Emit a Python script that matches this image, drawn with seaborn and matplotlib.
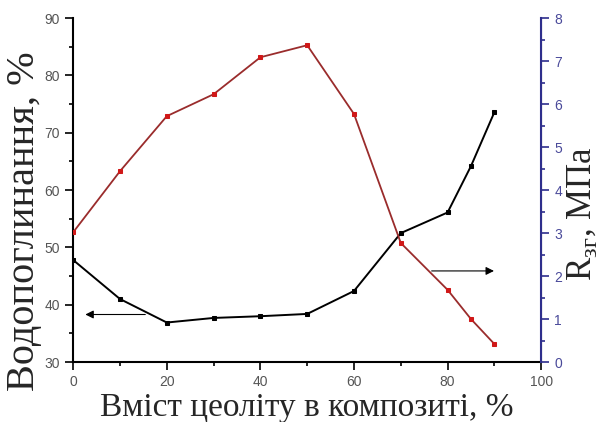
import seaborn as sns
import matplotlib.pyplot as plt
import pandas as pd

zeolite = [0, 10, 20, 30, 40, 50, 60, 70, 80, 85, 90]
water = [47.8, 41.0, 36.9, 37.7, 38.0, 38.4, 42.4, 52.5, 56.1, 64.2, 73.6]
strength = [3.02, 4.44, 5.72, 6.23, 7.09, 7.37, 5.77, 2.77, 1.68, 1.0, 0.42]

df = pd.DataFrame({"x": zeolite, "w": water, "r": strength})

sns.set_style("white")
plt.rcParams['font.family'] = ['Liberation Sans', 'DejaVu Sans']

fig = plt.figure(figsize=(6, 4.22), dpi=100)
ax = fig.add_axes([0.122, 0.142, 0.78, 0.815])
ax2 = ax.twinx()

sns.lineplot(data=df, x="x", y="w", ax=ax, color="black", marker="s",
             markersize=3.5, markeredgecolor="black", linewidth=1.4)
sns.lineplot(data=df, x="x", y="r", ax=ax2, color="#9a2c2c", marker="s",
             markersize=3.5, markerfacecolor="#d01818", markeredgecolor="#d01818",
             linewidth=1.3)

ax.set_xlim(0, 100)
ax.set_ylim(30, 90)
ax2.set_ylim(0, 8)

serif = ['Liberation Serif', 'DejaVu Serif']
ax.set_xlabel("Вміст цеоліту в композиті, %", family=serif, fontsize=24, labelpad=2)
ax.set_ylabel("Водопоглинання, %", family=serif, fontsize=29, labelpad=1)
ax2.set_ylabel(r"R$_{\mathregular{зг}}$, МПа", family=serif, fontsize=25, labelpad=2)
ax.yaxis.label.set_y(0.41)
ax2.yaxis.label.set_y(0.43)

ax.set_xticks(range(0, 101, 20))
ax.set_xticks(range(10, 100, 20), minor=True)
ax.set_yticks(range(30, 91, 10))
ax.set_yticks(range(35, 90, 10), minor=True)
ax2.set_yticks(range(0, 9))
ax2.set_yticks([i + 0.5 for i in range(8)], minor=True)

tick_gray = "#555555"
blue = "#2e2e8c"
ax.tick_params(axis="both", which="major", direction="out", length=6, width=1.2,
               labelsize=10, labelcolor=tick_gray, color="black",
               bottom=True, left=True)
ax.tick_params(axis="both", which="minor", direction="out", length=3, width=1.2,
               color="black", bottom=True, left=True)
ax2.tick_params(axis="y", which="major", direction="out", length=6, width=1.2,
                labelsize=10, labelcolor="#4a4a9a", color=blue, right=True)
ax2.tick_params(axis="y", which="minor", direction="out", length=3, width=1.2,
                color=blue, right=True)

for a in (ax, ax2):
    a.spines["top"].set_visible(False)
ax.spines["left"].set_linewidth(1.5)
ax.spines["bottom"].set_linewidth(1.5)
ax.spines["left"].set_color("black")
ax.spines["bottom"].set_color("black")
ax2.spines["right"].set_color(blue)
ax2.spines["right"].set_linewidth(1.5)
ax2.spines["left"].set_visible(False)
ax2.spines["bottom"].set_visible(False)

# arrows pointing at the matching axes
ax.annotate("", xy=(2, 38.3), xytext=(16, 38.3),
            arrowprops=dict(arrowstyle="-|>", color="black", lw=0.8,
                            mutation_scale=12))
ax2.annotate("", xy=(90.5, 2.12), xytext=(76, 2.12),
             arrowprops=dict(arrowstyle="-|>", color="black", lw=0.8,
                             mutation_scale=12))

plt.savefig("out.png", dpi=100)
